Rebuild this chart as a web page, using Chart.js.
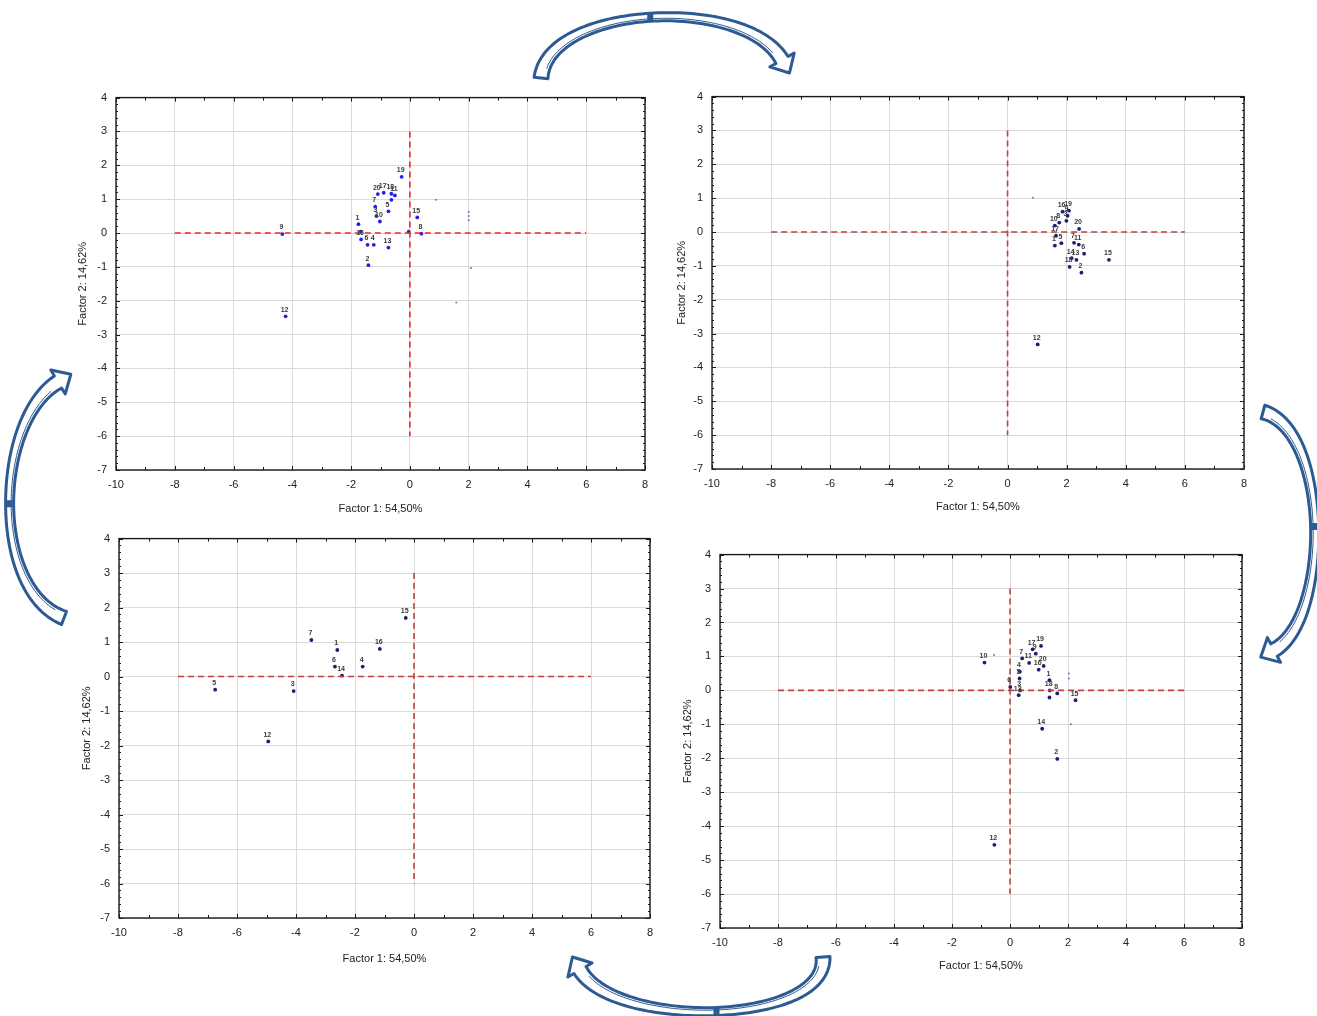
<!DOCTYPE html>
<html>
<head>
<meta charset="utf-8">
<script src="https://cdn.jsdelivr.net/npm/chart.js@4.4.1/dist/chart.umd.min.js"></script>
<style>
  html, body { margin: 0; padding: 0; background: #fff; }
  body { width: 1317px; height: 1016px; position: relative; overflow: hidden; }
  canvas { position: absolute; }
</style>
</head>
<body>
<canvas id="flechas" width="1317" height="1016" style="left:0;top:0"></canvas>
<script>
// Ejes comunes
const ejeXMin = -10, ejeXMax = 8, ejeYMin = -7, ejeYMax = 4;
const tituloX = 'Factor 1: 54,50%';
const tituloY = 'Factor 2: 14,62%';

// Cruz roja discontinua (x = 0, y = 0)
const cruzHorizontal = [{ x: -8, y: 0 }, { x: 6, y: 0 }];
const cruzVertical = [{ x: 0, y: 3 }, { x: 0, y: -6 }];

// Panel 1 (arriba izquierda)
const p1Etiquetas = ['19', '20', '17', '18', '11', '', '7', '5', '3', '10', '1', '', '16', '6', '4', '13', '2', '15', '8', '', '9', '12'];
const p1X = [-0.28, -1.09, -0.89, -0.63, -0.51, -0.63, -1.18, -0.73, -1.14, -1.02, -1.75, -1.67, -1.66, -1.44, -1.23, -0.73, -1.41, 0.25, 0.39, -0.04, -4.34, -4.23];
const p1Y = [1.66, 1.15, 1.19, 1.16, 1.11, 0.98, 0.78, 0.64, 0.50, 0.34, 0.26, 0.04, -0.19, -0.35, -0.35, -0.43, -0.95, 0.46, -0.02, 0.04, -0.03, -2.46];
const p1RuidoX = [0.88, 2.0, 2.0, 2.0, 2.08, 1.58];
const p1RuidoY = [0.98, 0.62, 0.50, 0.38, -1.03, -2.05];

// Panel 2 (arriba derecha)
const p2Etiquetas = ['16', '19', '9', '8', '10', '3', '20', '17', '5', '1', '7', '11', '6', '14', '18', '13', '2', '15', '12'];
const p2X = [1.86, 2.08, 2.03, 1.75, 1.60, 1.99, 2.42, 1.64, 1.82, 1.60, 2.25, 2.41, 2.59, 2.17, 2.10, 2.33, 2.50, 3.43, 1.02];
const p2Y = [0.60, 0.63, 0.48, 0.28, 0.19, 0.33, 0.09, -0.11, -0.33, -0.40, -0.32, -0.37, -0.64, -0.77, -1.03, -0.82, -1.20, -0.82, -3.32];
const p2RuidoX = [0.86];
const p2RuidoY = [1.01];

// Panel 3 (abajo izquierda)
const p3Etiquetas = ['15', '7', '1', '16', '6', '14', '4', '3', '5', '12'];
const p3X = [-0.28, -3.48, -2.60, -1.16, -2.68, -2.44, -1.74, -4.08, -6.74, -4.94];
const p3Y = [1.70, 1.06, 0.77, 0.80, 0.29, 0.03, 0.29, -0.42, -0.38, -1.88];
const p3RuidoX = [];
const p3RuidoY = [];

// Panel 4 (abajo derecha)
const p4Etiquetas = ['10', '7', '11', '17', '19', '9', '20', '16', '1', '4', '5', '6', '3', '13', '18', '8', '', '15', '14', '2', '12'];
const p4X = [-0.88, 0.42, 0.66, 0.78, 1.07, 0.89, 1.16, 0.99, 1.36, 0.34, 0.33, 0.01, 0.35, 0.30, 1.37, 1.63, 1.36, 2.26, 1.11, 1.63, -0.54];
const p4Y = [0.82, 0.94, 0.81, 1.21, 1.31, 1.08, 0.72, 0.61, 0.30, 0.55, 0.35, 0.10, 0.00, -0.14, 0.00, -0.09, -0.21, -0.29, -1.13, -2.02, -4.55];
const p4RuidoX = [2.03, 2.03, 2.10, -0.55];
const p4RuidoY = [0.50, 0.35, -1.00, 1.04];

// Ubicación de cada panel en la página (área de trazado y títulos)
const paneles = [
  { id: 'g1', izq: 116, der: 645, arr: 94, abj: 470, tituloYx: 83, tituloXy: 509, punto: '#2222e6', cruz: '#e8292b', x: p1X, y: p1Y, etiquetas: p1Etiquetas, rx: p1RuidoX, ry: p1RuidoY },
  { id: 'g2', izq: 712, der: 1244, arr: 93, abj: 469, tituloYx: 682, tituloXy: 507, punto: '#1d1d72', cruz: '#c2403f', x: p2X, y: p2Y, etiquetas: p2Etiquetas, rx: p2RuidoX, ry: p2RuidoY },
  { id: 'g3', izq: 119, der: 650, arr: 535, abj: 918, tituloYx: 87, tituloXy: 959, punto: '#1d1d72', cruz: '#c2403f', x: p3X, y: p3Y, etiquetas: p3Etiquetas, rx: p3RuidoX, ry: p3RuidoY },
  { id: 'g4', izq: 720, der: 1242, arr: 551, abj: 928, tituloYx: 688, tituloXy: 966, punto: '#1d1d72', cruz: '#c2403f', x: p4X, y: p4Y, etiquetas: p4Etiquetas, rx: p4RuidoX, ry: p4RuidoY }
];

const fuente = '"Liberation Sans", Arial, sans-serif';

// Marco negro con marcas hacia adentro en los cuatro lados
const marcoPlugin = {
  id: 'marco',
  beforeDatasetsDraw(chart) {
    const { ctx, chartArea: a, scales: { x, y } } = chart;
    ctx.save();
    ctx.strokeStyle = '#1a1a1a';
    ctx.lineWidth = 1.4;
    ctx.strokeRect(a.left, a.top, a.right - a.left, a.bottom - a.top);
    ctx.lineWidth = 1;
    ctx.beginPath();
    for (let v = x.min; v <= x.max; v += 1) {
      const px = Math.round(x.getPixelForValue(v)) + 0.5;
      const l = v % 2 === 0 ? 4 : 3;
      ctx.moveTo(px, a.bottom); ctx.lineTo(px, a.bottom - l);
      ctx.moveTo(px, a.top); ctx.lineTo(px, a.top + l);
    }
    const pasos = (y.max - y.min) * 5;
    for (let i = 0; i <= pasos; i++) {
      const py = Math.round(y.getPixelForValue(y.min + i / 5)) + 0.5;
      const l = i % 5 === 0 ? 4 : 2;
      ctx.moveTo(a.left, py); ctx.lineTo(a.left + l, py);
      ctx.moveTo(a.right, py); ctx.lineTo(a.right - l, py);
    }
    ctx.stroke();
    ctx.restore();
  }
};

// Números de muestra sobre cada punto
const etiquetasPlugin = {
  id: 'etiquetas',
  afterDatasetsDraw(chart) {
    const ctx = chart.ctx;
    chart.data.datasets.forEach((ds, i) => {
      if (!ds.etiquetas) return;
      const meta = chart.getDatasetMeta(i);
      ctx.save();
      ctx.font = 'bold 7px ' + fuente;
      ctx.fillStyle = '#3a3a3a';
      ctx.textAlign = 'center';
      ctx.textBaseline = 'bottom';
      meta.data.forEach((el, j) => {
        if (ds.etiquetas[j]) ctx.fillText(ds.etiquetas[j], el.x - 1, el.y - 3);
      });
      ctx.restore();
    });
  }
};

function crearPanel(p) {
  const lienzo = document.createElement('canvas');
  const izq = p.tituloYx - 10;
  const arr = p.arr - 12;
  const ancho = p.der + 14 - izq;
  const alto = p.tituloXy + 10 - arr;
  lienzo.id = p.id;
  lienzo.width = ancho;
  lienzo.height = alto;
  lienzo.style.left = izq + 'px';
  lienzo.style.top = arr + 'px';
  document.body.appendChild(lienzo);

  const anchoY = p.izq - izq;
  const altoX = alto - (p.abj - arr);

  const puntos = p.x.map((v, i) => ({ x: v, y: p.y[i] }));
  const ruido = p.rx.map((v, i) => ({ x: v, y: p.ry[i] }));

  return new Chart(lienzo, {
    type: 'scatter',
    data: {
      datasets: [
        { data: cruzHorizontal, showLine: true, pointRadius: 0, borderColor: p.cruz, borderWidth: 1.6, borderDash: [6, 4] },
        { data: cruzVertical, showLine: true, pointRadius: 0, borderColor: p.cruz, borderWidth: 1.6, borderDash: [6, 4] },
        { data: ruido, pointRadius: 1, backgroundColor: '#6b72c8', borderWidth: 0 },
        { data: puntos, etiquetas: p.etiquetas, pointRadius: 1.9, backgroundColor: p.punto, borderWidth: 0 }
      ]
    },
    options: {
      responsive: false,
      animation: false,
      devicePixelRatio: 1,
      layout: { padding: { top: 12, right: 14, left: 0, bottom: 0 } },
      plugins: { legend: { display: false }, tooltip: { enabled: false } },
      scales: {
        x: {
          type: 'linear', min: ejeXMin, max: ejeXMax,
          ticks: { stepSize: 2, autoSkip: false, maxRotation: 0, padding: 8, color: '#222', font: { family: fuente, size: 11 } },
          grid: { color: '#dadada', drawTicks: false },
          border: { display: false },
          title: { display: true, text: tituloX, color: '#222', font: { family: fuente, size: 11 }, padding: { top: 0, bottom: 3 } },
          afterFit: (s) => { s.height = altoX; }
        },
        y: {
          type: 'linear', min: ejeYMin, max: ejeYMax,
          ticks: { stepSize: 1, padding: 9, color: '#222', font: { family: fuente, size: 11 } },
          grid: { color: '#dadada', drawTicks: false },
          border: { display: false },
          title: { display: true, text: tituloY, color: '#222', font: { family: fuente, size: 11 }, padding: { top: 3, bottom: 0 } },
          afterFit: (s) => { s.width = anchoY; }
        }
      }
    },
    plugins: [marcoPlugin, etiquetasPlugin]
  });
}

paneles.forEach(crearPanel);

// Flechas curvas huecas que unen los paneles
const flechas = [
  { p0: [541, 78], c1: [548, 5], c2: [745, -5], p3: [782, 60] },
  { p0: [1263, 412], c1: [1330, 430], c2: [1330, 620], p3: [1274, 650] },
  { p0: [823, 957], c1: [828, 1025], c2: [615, 1030], p3: [580, 970] },
  { p0: [64, 618], c1: [-10, 590], c2: [-5, 420], p3: [58, 382] }
];

function bezier(f, t) {
  const u = 1 - t;
  const a = u * u * u, b = 3 * u * u * t, c = 3 * u * t * t, d = t * t * t;
  return [a * f.p0[0] + b * f.c1[0] + c * f.c2[0] + d * f.p3[0],
          a * f.p0[1] + b * f.c1[1] + c * f.c2[1] + d * f.p3[1]];
}

function tangente(f, t) {
  const u = 1 - t;
  const dx = 3 * u * u * (f.c1[0] - f.p0[0]) + 6 * u * t * (f.c2[0] - f.c1[0]) + 3 * t * t * (f.p3[0] - f.c2[0]);
  const dy = 3 * u * u * (f.c1[1] - f.p0[1]) + 6 * u * t * (f.c2[1] - f.c1[1]) + 3 * t * t * (f.p3[1] - f.c2[1]);
  const n = Math.hypot(dx, dy) || 1;
  return [dx / n, dy / n];
}

function dibujarFlecha(ctx, f) {
  const N = 80, lado1 = [], lado2 = [];
  for (let i = 0; i <= N; i++) {
    const t = i / N;
    const [px, py] = bezier(f, t);
    const [tx, ty] = tangente(f, t);
    const w = 4 + 3 * Math.pow(Math.abs(2 * t - 1), 1.6);
    lado1.push([px - ty * w, py + tx * w]);
    lado2.push([px + ty * w, py - tx * w]);
  }
  const [ex, ey] = f.p3;
  const [dx, dy] = tangente(f, 1);
  const ala = 14, largo = 15;
  ctx.beginPath();
  ctx.moveTo(lado1[0][0], lado1[0][1]);
  lado1.forEach(q => ctx.lineTo(q[0], q[1]));
  ctx.lineTo(ex - dy * ala, ey + dx * ala);
  ctx.lineTo(ex + dx * largo, ey + dy * largo);
  ctx.lineTo(ex + dy * ala, ey - dx * ala);
  for (let i = N; i >= 0; i--) ctx.lineTo(lado2[i][0], lado2[i][1]);
  ctx.closePath();
  ctx.fillStyle = '#fff';
  ctx.fill();
  ctx.strokeStyle = '#2d5a92';
  ctx.lineWidth = 3;
  ctx.lineJoin = 'round';
  ctx.stroke();
  // línea interior fina (efecto de borde doble)
  ctx.beginPath();
  for (let i = 4; i <= N - 4; i++) {
    const t = i / N;
    const [px, py] = bezier(f, t);
    const [tx, ty] = tangente(f, t);
    const w = 1.5 + 2.2 * Math.pow(Math.abs(2 * t - 1), 1.6);
    if (i === 4) ctx.moveTo(px - ty * w, py + tx * w); else ctx.lineTo(px - ty * w, py + tx * w);
  }
  ctx.lineWidth = 1;
  ctx.stroke();
  // pequeño cuadro en el centro
  const [mx, my] = bezier(f, 0.5);
  ctx.fillStyle = '#2d5a92';
  ctx.fillRect(mx - 3, my - 3.5, 6, 7);
}

const ctxFlechas = document.getElementById('flechas').getContext('2d');
flechas.forEach(f => dibujarFlecha(ctxFlechas, f));
</script>
</body>
</html>
